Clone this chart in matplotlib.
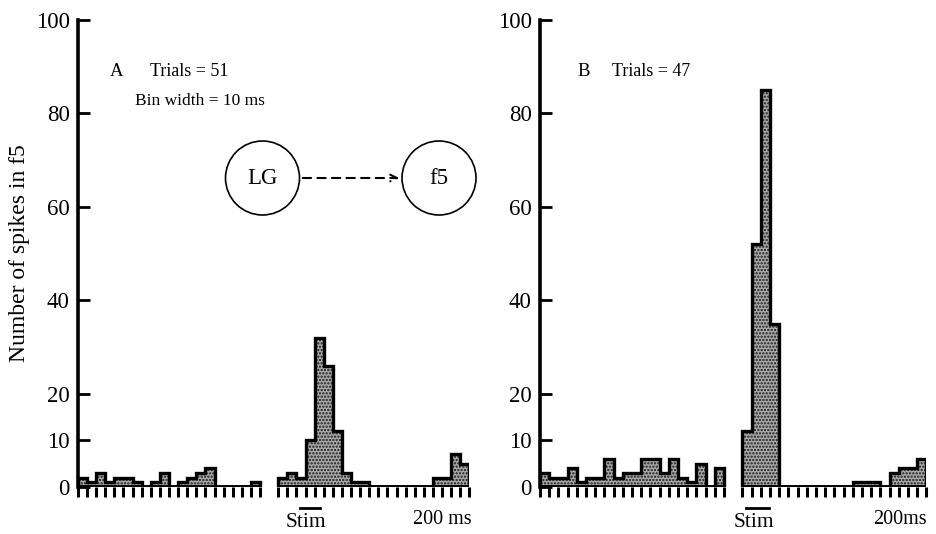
import numpy as np
import matplotlib
matplotlib.use("Agg")
import matplotlib.pyplot as plt
from matplotlib.patches import Circle, FancyArrowPatch

plt.rcParams['font.family'] = ['Liberation Serif', 'DejaVu Serif']
plt.rcParams['hatch.color'] = '#1a1a1a'
plt.rcParams['hatch.linewidth'] = 1.1

# spike counts per 10 ms bin, before and after the stimulus
a_pre = [2, 1, 3, 1, 2, 2, 1, 0, 1, 3, 0, 1, 2, 3, 4, 0, 0, 0, 0, 1]
a_post = [2, 3, 2, 10, 32, 26, 12, 3, 1, 1, 0, 0, 0, 0, 0, 0, 0, 2, 2, 7, 5]
b_pre = [3, 2, 2, 4, 1, 2, 2, 6, 2, 3, 3, 6, 6, 3, 6, 2, 1, 5, 0, 4]
b_post = [12, 52, 85, 35, 0, 0, 0, 0, 0, 0, 0, 0, 1, 1, 1, 0, 3, 4, 4, 6]

yticks = [0, 10, 20, 40, 60, 80, 100]
gap = 2   # empty bins between the two segments

fig = plt.figure(figsize=(9.37, 5.34), dpi=100)


def histo(ax, pre, post):
    segs = [(0, pre), (len(pre) + gap, post)]
    ticks = []
    for start, vals in segs:
        edges = np.arange(len(vals) + 1) + start
        ax.bar(edges[:-1], vals, width=1, align='edge', color='#a9a9a9',
               edgecolor='#1a1a1a', linewidth=0, hatch='.....')
        ax.stairs(vals, edges, baseline=0, color='black', lw=2.4)
        ax.hlines(0, edges[0], edges[-1], color='black', lw=2.8)
        ticks += list(edges)
    end = len(pre) + gap + len(post)
    ax.set_xlim(0, end)
    ax.set_ylim(0, 100)
    ax.set_xticks(ticks)
    ax.set_xticklabels([])
    ax.set_yticks(yticks)
    ax.set_yticklabels([str(t) for t in yticks], fontsize=16.5)
    for s in ['top', 'right', 'bottom']:
        ax.spines[s].set_visible(False)
    ax.spines['left'].set_linewidth(2.6)
    ax.tick_params(axis='y', direction='in', length=8.5, width=2, pad=6)
    ax.tick_params(axis='x', direction='out', length=7, width=2.2)
    ax.patch.set_alpha(0)
    return len(pre) + gap


axA = fig.add_axes([78 / 937, 47 / 534, 43 * 9.1 / 937, 467 / 534])
sA = histo(axA, a_pre, a_post)
axB = fig.add_axes([540 / 937, 47 / 534, 42 * 9.2 / 937, 467 / 534])
sB = histo(axB, b_pre, b_post)

axA.set_ylabel('Number of spikes in f5', fontsize=17, labelpad=4)

# panel text
axA.text(3.5, 88.9, 'A', fontsize=13.5, va='center')
axA.text(7.9, 88.9, 'Trials = 51', fontsize=13, va='center')
axA.text(6.3, 82.7, 'Bin width = 10 ms', fontsize=12.5, va='center')
axB.text(4.1, 88.9, 'B', fontsize=13.5, va='center')
axB.text(7.8, 88.9, 'Trials = 47', fontsize=13, va='center')

# stimulus markers and time scale
for ax, s, st0, st1, lab, lx in [(axA, sA, 2.4, 4.6, '200 ms', 40.0),
                                 (axB, sB, 0.4, 2.9, '200ms', 39.1)]:
    ax.plot([s + st0, s + st1], [-4.4, -4.4], color='black', lw=2,
            clip_on=False)
    ax.text(s + (st0 + st1) / 2 - 0.4, -7.6, 'Stim', fontsize=15.5,
            ha='center', va='center', clip_on=False)
    ax.text(lx, -7.0, lab, fontsize=14.5, ha='center', va='center',
            clip_on=False)

# LG -> f5 connection diagram
tr = fig.dpi_scale_trans
cy = (534 - 178) / 100
for cx, name in [(2.625, 'LG'), (4.39, 'f5')]:
    fig.patches.append(Circle((cx, cy), 0.37, transform=tr, fill=False,
                              ec='black', lw=1.2))
    fig.text(cx, cy, name, transform=tr, fontsize=16.5, ha='center',
             va='center')
fig.add_artist(FancyArrowPatch(
    (3.0, cy), (4.02, cy), transform=tr, arrowstyle='->',
    mutation_scale=12, lw=1.5, ls=(0, (4, 3)), color='black'))

fig.savefig('out.png', dpi=100)
